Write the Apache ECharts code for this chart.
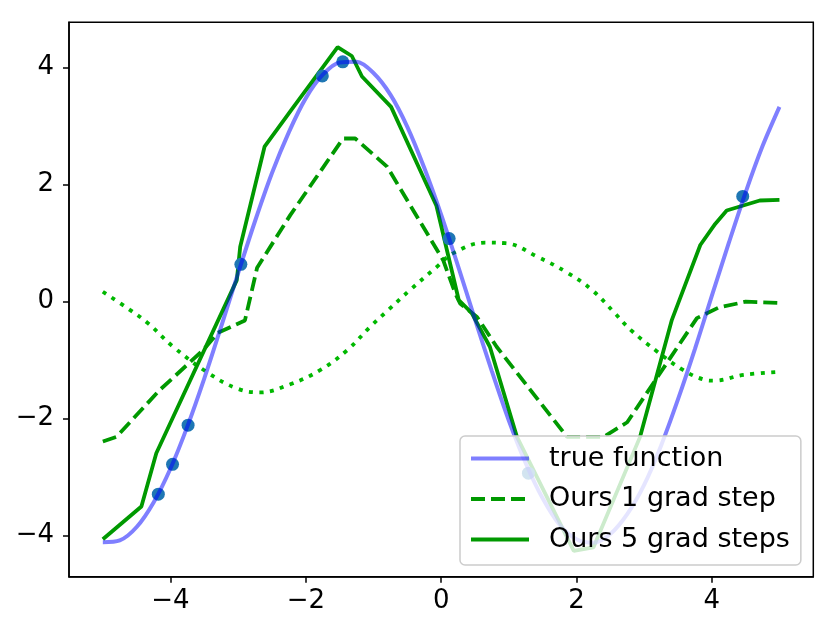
<!DOCTYPE html>
<html>
<head>
<meta charset="utf-8">
<script src="https://cdn.jsdelivr.net/npm/echarts@6/dist/echarts.min.js"></script>
<style>html,body{margin:0;padding:0;background:#fff}#c{width:836px;height:633px}</style>
</head>
<body>
<div id="c"></div>
<script>
// ---- data ----
var tickValuesX = [-4, -2, 0, 2, 4];
var tickValuesY = [-4, -2, 0, 2, 4];

var trueX = [-5,-4.75,-4.5,-4.25,-4,-3.75,-3.5,-3.25,-3,-2.75,-2.5,-2.25,-2,-1.75,-1.5,-1.25,-1,-0.75,-0.5,-0.25,0,0.25,0.5,0.75,1,1.25,1.5,1.75,2,2.25,2.5,2.75,3,3.25,3.5,3.75,4,4.25,4.5,4.75,5];
var trueY = [-4.11,-4.08,-3.85,-3.43,-2.85,-2.13,-1.31,-0.42,0.49,1.38,2.20,2.90,3.48,3.88,4.09,4.10,3.91,3.54,2.99,2.29,1.49,0.61,-0.30,-1.19,-2.03,-2.76,-3.36,-3.81,-4.06,-4.12,-3.97,-3.63,-3.13,-2.46,-1.67,-0.81,0.10,1.00,1.87,2.66,3.33];

var step1X = [-5.0,-4.8,-4.16,-3.52,-3.30,-2.90,-2.72,-2.23,-1.45,-1.27,-0.80,0.03,0.21,0.28,0.53,0.82,1.86,2.40,2.75,3.78,4.10,4.50,5.0];
var step1Y = [-2.39,-2.31,-1.51,-0.83,-0.53,-0.32,0.58,1.48,2.79,2.79,2.31,0.71,0.14,-0.03,-0.26,-0.77,-2.31,-2.31,-2.06,-0.28,-0.10,0.0,-0.02];

var step5X = [-5.0,-4.43,-4.21,-3.02,-2.97,-2.61,-2.20,-1.53,-1.32,-1.17,-0.74,-0.07,0.26,0.45,0.72,1.12,1.96,2.25,2.94,3.41,3.83,4.05,4.22,4.71,5.0];
var step5Y = [-4.06,-3.50,-2.59,0.37,0.94,2.65,3.30,4.35,4.20,3.85,3.33,1.64,0.03,-0.19,-0.77,-2.31,-4.26,-4.20,-2.31,-0.31,0.97,1.33,1.56,1.73,1.74];

var preX = [-5.0,-4.6,-4.33,-3.96,-3.44,-3.0,-2.68,-2.23,-1.79,-1.39,-1.05,-0.78,-0.46,-0.06,0.18,0.65,0.95,1.42,1.86,2.23,2.57,2.80,3.19,3.58,3.88,4.03,4.47,5.0];
var preY = [0.17,-0.14,-0.37,-0.77,-1.22,-1.49,-1.55,-1.41,-1.17,-0.83,-0.43,-0.14,0.20,0.60,0.83,1.01,1.00,0.77,0.50,0.20,-0.20,-0.48,-0.85,-1.17,-1.33,-1.35,-1.25,-1.20];

var ptsX = [-4.18,-3.97,-3.74,-2.96,-1.756,-1.454,0.118,1.29,4.457];
var ptsY = [-3.29,-2.78,-2.11,0.64,3.86,4.10,1.08,-2.93,1.80];

var legendNames = ['true function', 'Ours 1 grad step', 'Ours 5 grad steps'];

function zip(a, b) { return a.map(function (v, i) { return [v, b[i]]; }); }
function fmt(v) { return String(v).replace('-', '\u2212'); }

var FONT = 'DejaVu Sans';
var chart = echarts.init(document.getElementById('c'), null, {renderer: 'canvas'});
chart.setOption({
  animation: false,
  backgroundColor: '#fff',
  grid: {left: 69, right: 22.7, top: 22.3, bottom: 56.3, show: true, borderColor: '#000', borderWidth: 1.5, backgroundColor: 'transparent'},
  xAxis: {
    type: 'value', min: -5.5, max: 5.5,
    splitLine: {show: false},
    axisLine: {show: true, onZero: false, lineStyle: {color: '#000', width: 1.5}},
    axisTick: {show: true, customValues: tickValuesX, length: 6, lineStyle: {color: '#000', width: 1.5}},
    axisLabel: {customValues: tickValuesX, formatter: fmt, color: '#000', fontFamily: FONT, fontSize: 26, margin: 12}
  },
  yAxis: {
    type: 'value', min: -4.70, max: 4.776,
    splitLine: {show: false},
    axisLine: {show: true, onZero: false, lineStyle: {color: '#000', width: 1.5}},
    axisTick: {show: true, customValues: tickValuesY, length: 6, lineStyle: {color: '#000', width: 1.5}},
    axisLabel: {customValues: tickValuesY, formatter: fmt, color: '#000', fontFamily: FONT, fontSize: 26, margin: 15}
  },
  legend: {
    data: legendNames,
    orient: 'vertical',
    left: 460, top: 436,
    padding: [9, 11, 12, 9],
    itemWidth: 58, itemHeight: 0.5, itemGap: 13.5,
    backgroundColor: 'rgba(255,255,255,0.8)',
    borderColor: '#cccccc', borderWidth: 1.5, borderRadius: 5,
    lineStyle: {width: 'inherit', type: 'inherit'},
    itemStyle: {opacity: 0},
    textStyle: {fontFamily: FONT, fontSize: 27, color: '#000', padding: [0, 0, 0, 15]},
    z: 10
  },
  series: [
    {name: 'pre-update', type: 'line', data: zip(preX, preY), symbol: 'none', smooth: 0.4,
     lineStyle: {color: '#00b800', width: 3.8, type: [4, 6.5], cap: 'butt'}, z: 2},
    {name: 'Ours 1 grad step', type: 'line', data: zip(step1X, step1Y), symbol: 'none',
     itemStyle: {color: '#009900'},
     lineStyle: {color: '#009900', width: 3.8, type: [14, 6], cap: 'butt'}, z: 3},
    {name: 'Ours 5 grad steps', type: 'line', data: zip(step5X, step5Y), symbol: 'none',
     itemStyle: {color: '#009900'},
     lineStyle: {color: '#009900', width: 3.8}, z: 4},
    {name: 'points', type: 'scatter', data: zip(ptsX, ptsY), symbol: 'circle', symbolSize: 13,
     itemStyle: {color: '#1f77b4', opacity: 1}, z: 5},
    {name: 'true function', type: 'line', data: zip(trueX, trueY), symbol: 'none', smooth: 0.3,
     itemStyle: {color: 'rgba(0,0,255,0.5)'},
     lineStyle: {color: 'rgba(0,0,255,0.5)', width: 4}, z: 6}
  ]
});
</script>
</body>
</html>
